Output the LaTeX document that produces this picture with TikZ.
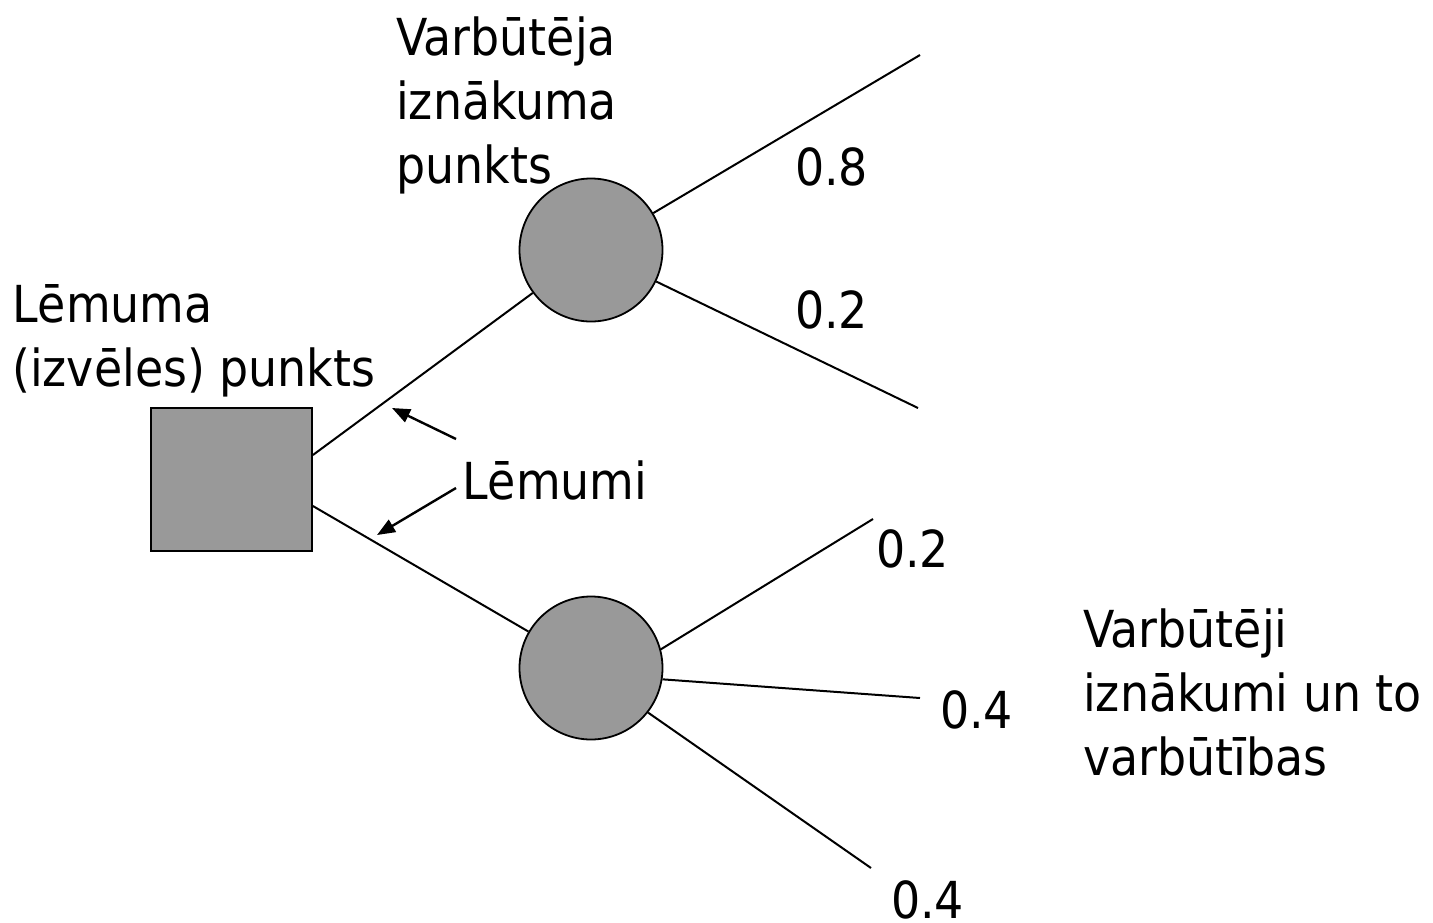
\documentclass[tikz,border=0pt]{standalone}
\usepackage{fontspec}
\setmainfont{DejaVu Sans Condensed}
\usetikzlibrary{arrows.meta}
\definecolor{nodegray}{RGB}{153,153,153}
\tikzset{
  lbl/.style={anchor=base west, inner sep=0pt, align=left, font=\fontsize{51}{64}\selectfont},
  conn/.style={line width=2pt},
  pointer/.style={line width=2.4pt, -{Triangle[length=18pt,width=14pt]}},
  chance/.style={circle, draw, line width=1.8pt, fill=nodegray, minimum size=143pt, inner sep=0pt},
  decision/.style={rectangle, draw, line width=1.8pt, fill=nodegray, minimum width=161pt, minimum height=143pt, inner sep=0pt}
}
\begin{document}
\begin{tikzpicture}[x=1pt,y=-1pt]
\useasboundingbox (0,0) rectangle (1433,922);
\node[decision] (sq) at (231.5,479.5) {};
\node[chance] (c1) at (591,250) {};
\node[chance] (c2) at (591,668) {};
\coordinate (e1) at (920,55);
\coordinate (e2) at (918,408);
\coordinate (e3) at (873,519);
\coordinate (e4) at (920,698);
\coordinate (e5) at (871,868);
\draw[conn] ([yshift=24.5pt]sq.east) -- (c1);
\draw[conn] ([yshift=-26.5pt]sq.east) -- (c2);
\draw[conn] (c1) -- (e1);
\draw[conn] (c1) -- (e2);
\draw[conn] (c2.15) -- (e3);
\draw[conn] (c2.-9) -- (e4);
\draw[conn] (c2.-38) -- (e5);
\node[lbl] (t1) at (396,183) {Varbūtēja\\iznākuma\\punkts};
\node[lbl] (t2) at (12,386) {Lēmuma\\(izvēles) punkts};
\node[lbl] (t3) at (462,499) {Lēmumi};
\node[lbl] (t4) at (1083,775) {Varbūtēji\\iznākumi un to\\varbūtības};
\node[lbl] (p1) at (795,185) {0.8};
\node[lbl] (p2) at (795,328) {0.2};
\node[lbl] (p3) at (876,567) {0.2};
\node[lbl] (p4) at (940,728) {0.4};
\node[lbl] (p5) at (891,918) {0.4};
\coordinate (a1s) at (456,439);
\coordinate (a1e) at (392,408);
\coordinate (a2s) at (456,488);
\coordinate (a2e) at (377,535);
\draw[pointer] (a1s) -- (a1e);
\draw[pointer] (a2s) -- (a2e);
\end{tikzpicture}
\end{document}
